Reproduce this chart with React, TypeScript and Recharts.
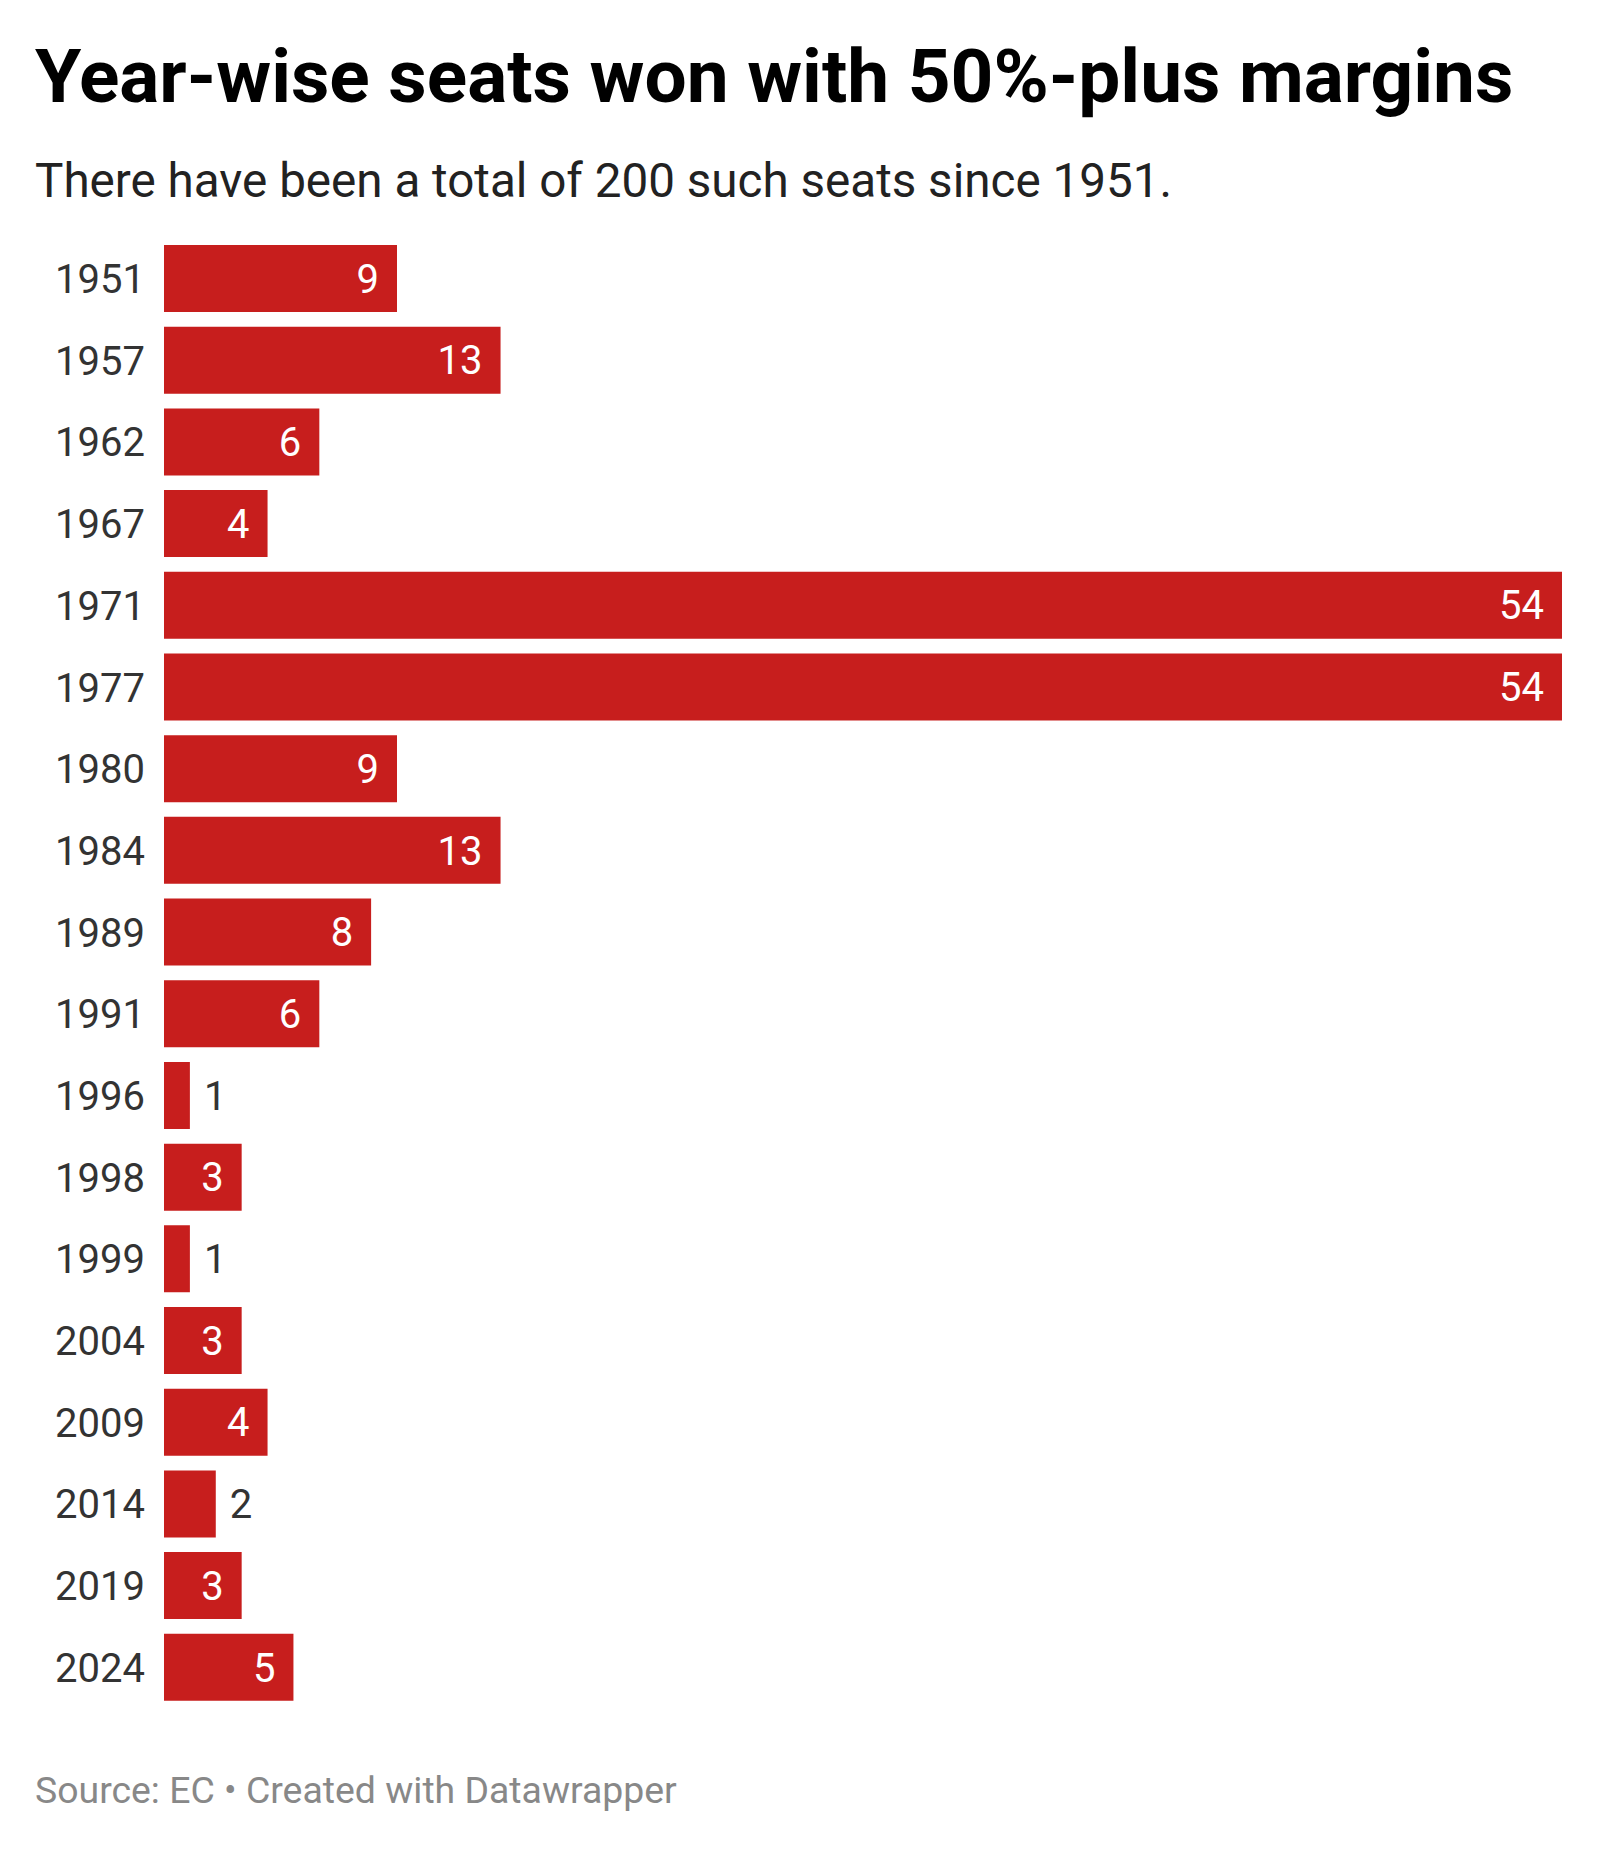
import React from "react";
import { BarChart, Bar, XAxis, YAxis, LabelList } from "recharts";

const years = ["1951","1957","1962","1967","1971","1977","1980","1984","1989","1991","1996","1998","1999","2004","2009","2014","2019","2024"];
const seats = [9,13,6,4,54,54,9,13,8,6,1,3,1,3,4,2,3,5];

const titleText = "Year-wise seats won with 50%-plus margins";
const subtitleText = "There have been a total of 200 such seats since 1951.";
const footerText = "Source: EC \u2022 Created with Datawrapper";

const data = years.map((y, i) => ({ year: y, seats: seats[i] }));

const FONT = "Roboto, 'Noto Sans', sans-serif";
const RED = "#c71e1d";

const ValueLabel = (props: any) => {
  const { x, y, width, height, value } = props;
  const inside = width > 60;
  const cy = y + height / 2;
  if (inside) {
    return (
      <text x={x + width - 18} y={cy} dy="0.355em" textAnchor="end" fill="#ffffff" fontSize={40} fontFamily={FONT}>
        {value}
      </text>
    );
  }
  return (
    <text x={x + width + 14} y={cy} dy="0.355em" textAnchor="start" fill="#333333" fontSize={40} fontFamily={FONT}>
      {value}
    </text>
  );
};

const YearTick = (props: any) => {
  const { x, y, payload } = props;
  return (
    <text x={x} y={y} dy="0.355em" textAnchor="end" fill="#333333" fontSize={40} fontFamily={FONT}>
      {payload.value}
    </text>
  );
};

export default function App() {
  return (
    <div style={{ position: "absolute", left: 0, top: 0, width: 1600, height: 1849, background: "#fff" }}>
      <svg width={1600} height={1849} style={{ position: "absolute", left: 0, top: 0 }}>
        <text x={35} y={102} fontSize={74.8} fontWeight={700} fill="#000000" fontFamily={FONT}>{titleText}</text>
        <text x={35} y={197} fontSize={47.6} fill="#222222" fontFamily={FONT}>{subtitleText}</text>
        <text x={35} y={1803} fontSize={37.4} fill="#888888" fontFamily={FONT}>{footerText}</text>
      </svg>
      <div style={{ position: "absolute", left: 0, top: 0 }}>
        <BarChart
          width={1600}
          height={1730}
          data={data}
          layout="vertical"
          margin={{ top: 238, right: 38, bottom: 21.5, left: 0 }}
        >
          <XAxis type="number" domain={[0, 54]} hide />
          <YAxis
            type="category"
            dataKey="year"
            width={164}
            axisLine={false}
            tickLine={false}
            tickSize={0}
            tickMargin={19}
            tick={<YearTick />}
            interval={0}
          />
          <Bar dataKey="seats" fill={RED} barSize={67} isAnimationActive={false}>
            <LabelList dataKey="seats" content={<ValueLabel />} />
          </Bar>
        </BarChart>
      </div>
    </div>
  );
}
